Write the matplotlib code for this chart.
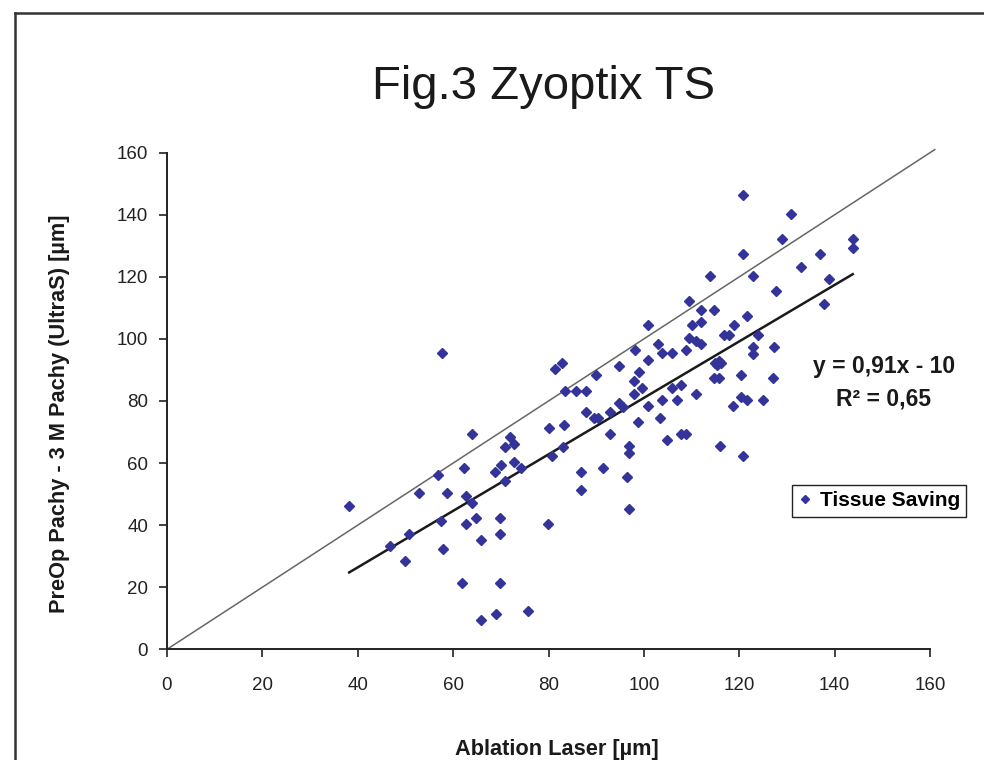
import matplotlib
matplotlib.use("Agg")
import matplotlib.pyplot as plt
from matplotlib.lines import Line2D
import numpy as np

plt.rcParams['font.family'] = ['Liberation Sans', 'DejaVu Sans']

# Data: Ablation Laser [um] vs PreOp Pachy - 3 M Pachy (UltraS) [um]
ablation = [
    57.6, 81.4, 82.9, 83.5, 85.8, 63.9, 80.0, 83.2, 71.9, 70.9,
    72.8, 83.1, 80.7, 62.3, 56.8, 70.0, 68.8, 72.8, 74.2, 70.9,
    52.8, 58.8, 62.8, 63.9, 38.2, 57.5, 62.8, 64.9, 69.9, 79.9,
    50.8, 69.9, 46.8, 65.8, 57.9, 49.9, 61.9, 69.9, 65.8, 68.9,
    75.8, 109.5, 112.0, 114.8, 121.6, 100.9, 110.1, 111.9, 119.0, 116.9,
    117.9, 123.9, 109.5, 110.9, 111.9, 102.9, 98.2, 103.9, 105.9, 108.8,
    122.8, 122.8, 100.9, 94.8, 115.0, 115.3, 115.8, 116.1, 98.9, 90.0,
    97.9, 114.7, 115.8, 120.4, 87.9, 99.7, 97.9, 105.9, 107.8, 110.9,
    120.4, 121.6, 118.7, 124.9, 103.9, 106.9, 94.8, 95.6, 100.9, 92.8,
    87.9, 89.6, 90.4, 98.7, 103.4, 92.9, 104.8, 107.8, 108.9, 96.9,
    96.9, 115.9, 120.8, 86.9, 91.5, 96.5, 86.9, 96.9, 120.8, 130.9,
    128.9, 143.8, 143.8, 120.8, 136.9, 132.9, 113.9, 122.8, 138.8, 127.8,
    137.8, 127.2, 127.0,
]
pachy_diff = [
    95.4, 90.2, 92.3, 83.2, 83.3, 69.3, 71.4, 72.3, 68.3, 65.3,
    66.2, 65.2, 62.3, 58.3, 56.2, 59.4, 57.2, 60.2, 58.3, 54.1,
    50.4, 50.4, 49.4, 47.2, 46.3, 41.3, 40.3, 42.3, 42.3, 40.3,
    37.2, 37.2, 33.3, 35.3, 32.3, 28.4, 21.3, 21.3, 9.3, 11.3,
    12.2, 112.2, 109.3, 109.3, 107.4, 104.4, 104.4, 105.3, 104.4, 101.3,
    101.3, 101.4, 100.3, 99.3, 98.4, 98.4, 96.3, 95.4, 95.4, 96.3,
    97.4, 95.3, 93.3, 91.3, 92.3, 91.6, 93.0, 92.1, 89.3, 88.3,
    86.3, 87.3, 87.3, 88.4, 83.3, 84.3, 82.2, 84.3, 85.2, 82.2,
    81.4, 80.3, 78.4, 80.3, 80.3, 80.3, 79.3, 78.2, 78.4, 76.5,
    76.4, 74.4, 74.4, 73.2, 74.4, 69.3, 67.3, 69.3, 69.3, 65.4,
    63.1, 65.4, 62.4, 57.2, 58.3, 55.4, 51.2, 45.2, 146.3, 140.3,
    132.2, 132.3, 129.3, 127.3, 127.3, 123.3, 120.3, 120.3, 119.3, 115.3,
    111.3, 97.4, 87.3,
]
slope = 0.91
intercept = -10.0
r_squared = "0,65"
identity_end = 161
x_ticks = [0, 20, 40, 60, 80, 100, 120, 140, 160]
y_ticks = [0, 20, 40, 60, 80, 100, 120, 140, 160]

W, H = 984, 760
fig = plt.figure(figsize=(W / 100, H / 100), dpi=100)
fig.patch.set_facecolor('white')

# outer frame (top and left edges visible)
fig.add_artist(Line2D([15 / W, 1.0], [1 - 13 / H, 1 - 13 / H], color='#333333', lw=1.8))
fig.add_artist(Line2D([15 / W, 15 / W], [0.0, 1 - 13 / H], color='#333333', lw=1.8))

ax = fig.add_axes([167 / W, 1 - 649.3 / H, (930 - 167) / W, (649.3 - 152.7) / H])
ax.set_xlim(0, 160)
ax.set_ylim(0, 160)
ax.set_xticks(x_ticks)
ax.set_yticks(y_ticks)
for s in ['top', 'right']:
    ax.spines[s].set_visible(False)
for s in ['left', 'bottom']:
    ax.spines[s].set_color('#222222')
    ax.spines[s].set_linewidth(1.4)
ax.tick_params(direction='out', length=6, width=1.2, color='#222222',
               labelsize=13.5, labelcolor='#222222')
ax.tick_params(axis='x', pad=14)
ax.tick_params(axis='y', pad=7.5)

# identity line
ax.plot([0, identity_end], [0, identity_end], color='#666666', lw=1.1,
        clip_on=False, zorder=2)

# trend line
xmin, xmax = min(ablation), max(ablation)
ax.plot([xmin, xmax], [slope * xmin + intercept, slope * xmax + intercept],
        color='#1a1a1a', lw=1.8, zorder=2)

ax.plot(ablation, pachy_diff, linestyle='none', marker='D', ms=4.6,
        color='#333399', mec='#333399', zorder=3, clip_on=False,
        label='Tissue Saving')

fig.text(543 / W, 1 - 87 / H, 'Fig.3 Zyoptix TS', ha='center', va='center',
         fontsize=34, color='#1a1a1a')
fig.text(557 / W, 1 - 750 / H, 'Ablation Laser [µm]', ha='center', va='center',
         fontsize=15.7, fontweight='bold', color='#1a1a1a')
fig.text(60 / W, 1 - 414 / H, 'PreOp Pachy - 3 M Pachy (UltraS) [µm]', ha='center',
         va='center', rotation=90, fontsize=15.7, fontweight='bold', color='#1a1a1a')

fig.text(884 / W, 1 - 366 / H, f'y = {slope:.2f}x - {abs(intercept):.0f}'.replace('.', ','),
         ha='center', va='center', fontsize=16.5, fontweight='bold', color='#1a1a1a')
fig.text(884 / W, 1 - 399 / H, f'R² = {r_squared}', ha='center', va='center',
         fontsize=16.5, fontweight='bold', color='#1a1a1a')

leg = ax.legend(loc='center', bbox_to_anchor=(879 / W, 1 - 501 / H),
                bbox_transform=fig.transFigure, frameon=True, fancybox=False,
                edgecolor='#222222', framealpha=1, borderpad=0.3,
                handlelength=0.7, handletextpad=0.35, markerscale=0.8,
                prop={'size': 15, 'weight': 'bold'})
leg.get_frame().set_linewidth(1.0)

fig.savefig('out.png', dpi=100)
